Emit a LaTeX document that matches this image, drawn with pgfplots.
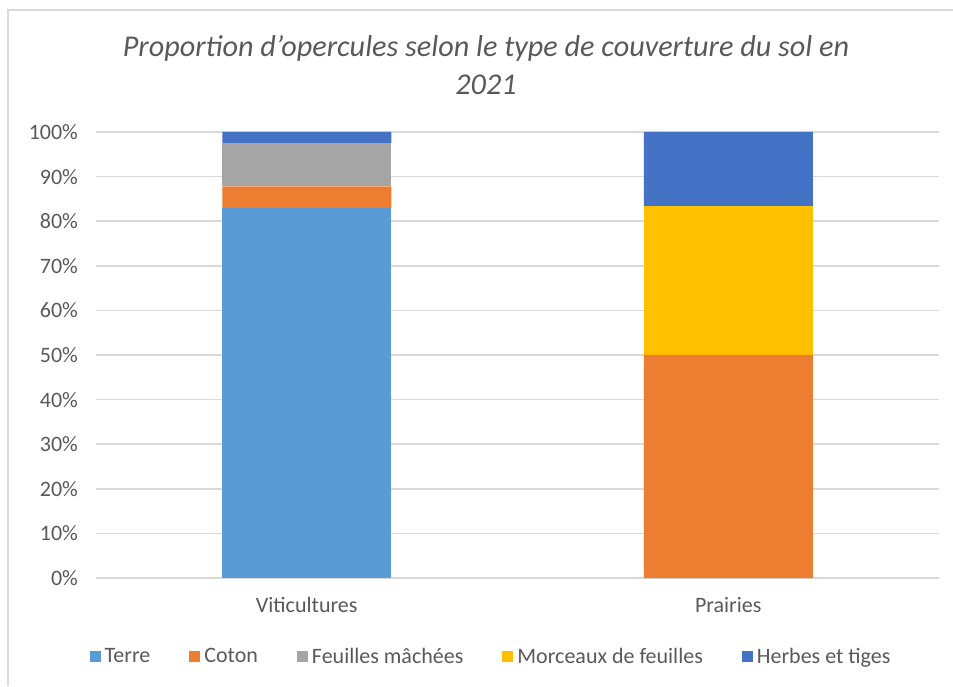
\documentclass[border=0pt]{standalone}
\usepackage{fontspec}
\setmainfont{Carlito}
\usepackage{pgfplots}
\pgfplotsset{compat=1.18}
\definecolor{terre}{HTML}{5B9BD5}
\definecolor{coton}{HTML}{ED7D31}
\definecolor{feuilles}{HTML}{A5A5A5}
\definecolor{morceaux}{HTML}{FFC000}
\definecolor{herbes}{HTML}{4472C4}
\definecolor{txt}{HTML}{595959}
\definecolor{gridgrey}{HTML}{D9D9D9}
\begin{document}
\begin{tikzpicture}
\path[use as bounding box] (0,0) rectangle (476.5pt,343pt);
\draw[gridgrey, line width=0.8pt] (4pt,0) -- (4pt,338pt) -- (476.5pt,338pt);
\node[anchor=base, text=txt, font=\fontsize{15.1}{18}\selectfont\itshape] at (243pt,314.6pt) {Proportion d\symbol{"27}opercules selon le type de couverture du sol en};
\node[anchor=base, text=txt, font=\fontsize{15.1}{18}\selectfont\itshape] at (243pt,295.5pt) {2021};
\begin{axis}[
  at={(48pt,54pt)}, anchor=south west,
  width=421.5pt, height=223pt, scale only axis,
  ybar stacked, bar width=84.5pt,
  xmin=-0.5, xmax=1.5, ymin=0, ymax=100,
  xtick={0,1}, xticklabels={Viticultures,Prairies},
  ytick={0,10,...,100},
  yticklabels={0\%,10\%,20\%,30\%,40\%,50\%,60\%,70\%,80\%,90\%,100\%},
  ymajorgrids, grid style={gridgrey, line width=0.8pt},
  axis line style={draw=none},
  tick style={draw=none},
  tick label style={text=txt, font=\fontsize{11}{13}\selectfont},
  yticklabel style={xshift=-5.5pt},
  xticklabel style={yshift=-6pt},
  legend style={at={(0.4698,-0.177)}, anchor=center, draw=none, fill=none,
    legend columns=5, font=\fontsize{11}{13}\selectfont, text=txt,
    /tikz/every even column/.append style={column sep=17.5pt}},
  legend cell align=left,
]
\addplot[fill=terre, draw=none, legend image code/.code={\fill[terre] (-2pt,-2.75pt) rectangle (3.5pt,2.75pt);}] coordinates {(0,82.93) (1,0)};
\addplot[fill=coton, draw=none, legend image code/.code={\fill[coton] (-2pt,-2.75pt) rectangle (3.5pt,2.75pt);}] coordinates {(0,4.88) (1,50)};
\addplot[fill=feuilles, draw=none, legend image code/.code={\fill[feuilles] (-2pt,-2.75pt) rectangle (3.5pt,2.75pt);}] coordinates {(0,9.76) (1,0)};
\addplot[fill=morceaux, draw=none, legend image code/.code={\fill[morceaux] (-2pt,-2.75pt) rectangle (3.5pt,2.75pt);}] coordinates {(0,0) (1,33.33)};
\addplot[fill=herbes, draw=none, legend image code/.code={\fill[herbes] (-2pt,-2.75pt) rectangle (3.5pt,2.75pt);}] coordinates {(0,2.43) (1,16.67)};
\legend{Terre,Coton,Feuilles mâchées,Morceaux de feuilles,Herbes et tiges}
\end{axis}
\end{tikzpicture}
\end{document}
